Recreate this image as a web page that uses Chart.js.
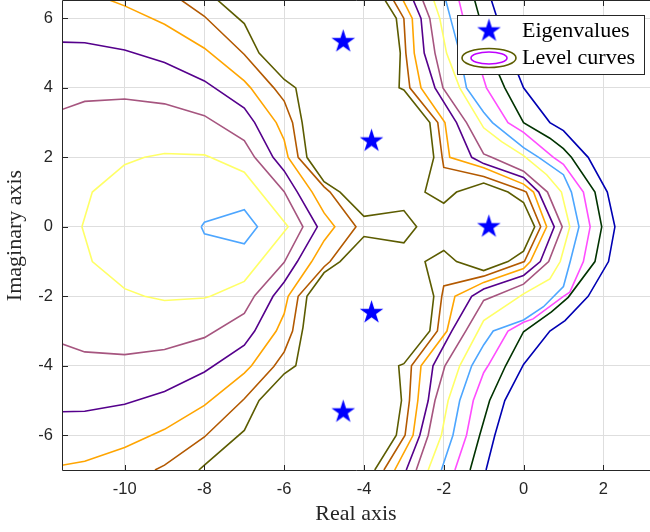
<!DOCTYPE html>
<html>
<head>
<meta charset="utf-8">
<script src="https://cdn.jsdelivr.net/npm/chart.js@4.4.1/dist/chart.umd.min.js"></script>
<style>
html, body { margin: 0; padding: 0; background: #fff; overflow: hidden; }
canvas { display: block; }
</style>
</head>
<body>
<canvas id="chart" width="650" height="532"></canvas>
<script>
// tick labels
var xTicks = [-10, -8, -6, -4, -2, 0, 2];
var yTicks = [-6, -4, -2, 0, 2, 4, 6];

// eigenvalues (real, imag)
var eigReal = [-4.52, -3.81, -0.87, -3.81, -4.52];
var eigImag = [5.33, 2.47, 0, -2.47, -5.33];

var legendLabels = ['Eigenvalues', 'Level curves'];

// level curves, [x, y] points
var lightblueLeft = [[-8.08,0],[-8,0.13],[-7,0.49],[-6.67,0],[-7,-0.49],[-8,-0.2],[-8.08,0]];
var lightblueRight = [[-2.06,7],[-1.83,6],[-1.6,5],[-1.43,4],[-1,3.3],[-0.78,3],[0,2.28],[0.38,2],[1,1.5],[1.2,1],[1.39,0],[1.17,-1],[1,-1.72],[0.5,-2.3],[0,-2.68],[-0.76,-3],[-1,-3.4],[-1.3,-4],[-1.6,-5],[-1.77,-6],[-2.06,-7]];

var yellowLeft = [[-11.07,0],[-10.81,1],[-10,1.79],[-9.5,2],[-9,2.11],[-8,2.07],[-7.85,2],[-7,1.57],[-5.9,0],[-7,-1.57],[-7.85,-2],[-8,-2.05],[-9,-2.12],[-9.5,-2],[-10,-1.78],[-10.81,-1],[-11.07,0]];
var yellowRight = [[-2.39,7],[-2.1,6],[-1.93,5],[-1.6,4],[-1,2.85],[-0.55,2.45],[0,2.05],[0.58,1.5],[0.95,1],[1.16,0],[0.92,-1],[0.66,-1.5],[0,-1.93],[-1,-2.7],[-1.6,-4],[-1.89,-5],[-2.06,-6],[-2.39,-7]];

var mauveLeft = [[-12,3.2],[-11,3.61],[-10,3.68],[-9,3.54],[-8,3.2],[-7,2.48],[-6.74,2],[-6,1.01],[-5.53,0],[-6,-1.02],[-6.74,-1.98],[-7,-2.49],[-8,-3.19],[-9,-3.53],[-10,-3.68],[-11,-3.6],[-12,-3.2]];
var mauveRight = [[-2.69,7],[-2.35,6],[-2.22,5],[-2.02,4],[-1.43,3],[-1,2.1],[-0.8,2],[0,1.6],[0.6,1],[0.97,0],[0.63,-1],[0,-1.65],[-1,-2.12],[-1.45,-3],[-1.97,-4],[-2.22,-5],[-2.39,-6],[-2.69,-7]];

var purpleLeft = [[-12,5.33],[-11,5.3],[-10,5.09],[-9,4.73],[-8,4.2],[-7,3.42],[-6.74,3],[-6.28,2],[-6,1.61],[-5.67,1],[-5.17,0],[-5.67,-1],[-6,-1.59],[-6.28,-2],[-6.74,-3],[-7,-3.41],[-8,-4.18],[-9,-4.74],[-10,-5.11],[-11,-5.31],[-12,-5.33]];
var purpleRight = [[-2.94,7],[-2.57,6],[-2.49,5],[-2.22,4],[-1.68,3],[-1.3,2],[-1,1.82],[0,1.42],[0.38,1],[0.77,0],[0.42,-1],[0,-1.4],[-1,-1.79],[-1.3,-2],[-1.8,-3],[-2.27,-4],[-2.39,-5],[-2.6,-6],[-2.94,-7]];

var orangeLeft = [[-11,6.8],[-10,6.36],[-9,5.83],[-8,5.14],[-7,4.2],[-6.84,4],[-6.2,3],[-6,2.5],[-5.9,2],[-5.3,1],[-5,0.4],[-4.73,0],[-5,-0.4],[-5.31,-1],[-5.9,-2],[-6,-2.5],[-6.2,-3],[-6.82,-4],[-7,-4.21],[-8,-5.14],[-9,-5.83],[-10,-6.35],[-11,-6.75],[-12,-6.95]];
var orangeRight = [[-3.23,7],[-2.79,6],[-2.74,5],[-2.57,4],[-1.97,3],[-1.85,2],[-1,1.7],[0,1.23],[0.25,1],[0.58,0],[0.17,-1],[0,-1.2],[-1,-1.6],[-1.72,-2],[-1.92,-3],[-2.57,-4],[-2.65,-5],[-2.77,-6],[-3.23,-7]];

var brownLeft = [[-9.24,7],[-9,6.86],[-8,6.06],[-7,4.96],[-6.26,4],[-6,3.62],[-5.79,3],[-5.65,2],[-5,1.15],[-4.85,1],[-4.2,0],[-4.85,-1],[-5,-1.15],[-5.65,-2],[-5.79,-3],[-6,-3.6],[-6.26,-4.02],[-7,-4.95],[-8,-6.05],[-9,-6.86],[-9.24,-7]];
var brownRight = [[-3.5,7],[-3,6],[-2.95,5],[-2.85,4],[-2.15,3],[-2.04,2],[-2,1.71],[-1,1.45],[0,1.04],[0.07,1],[0.43,0],[0.02,-1],[-1,-1.42],[-2,-1.7],[-2.05,-2],[-2.16,-3],[-2.81,-4],[-2.86,-5],[-2.97,-6],[-3.5,-7]];

var oliveLeft = [[-8.14,7],[-8,6.86],[-7,5.85],[-6.63,5],[-6,4.24],[-5.71,4],[-5.55,3],[-5.43,2],[-5,1.3],[-4.6,1],[-4,0.3],[-3,0.47],[-2.68,0],[-3,-0.46],[-4,-0.28],[-4.6,-1],[-5,-1.32],[-5.43,-2],[-5.53,-2.9],[-5.71,-4],[-6,-4.23],[-6.63,-5],[-7,-5.86],[-8,-6.86],[-8.14,-7]];
var oliveRight = [[-3.73,7],[-3.19,6],[-3.09,5],[-3.12,4],[-3,3.94],[-2.35,3],[-2.25,2],[-2.47,1],[-2,0.68],[-1.68,1],[-1,1.26],[-0.39,1],[0,0.7],[0.28,0],[0,-0.7],[-0.39,-1],[-1,-1.26],[-1.68,-1],[-2,-0.68],[-2.47,-1],[-2.25,-2],[-2.35,-3],[-3,-3.94],[-3.13,-4],[-3.06,-5],[-3.19,-6],[-3.73,-7]];

var magentaRight = [[-1.72,7],[-1.51,6],[-1.2,5],[-0.93,4],[-0.39,3],[0,2.72],[0.75,2],[1,1.8],[1.5,1],[1.67,0],[1.5,-1],[1.16,-1.88],[1,-2],[0.24,-2.65],[0,-2.75],[-0.39,-3],[-0.89,-4],[-1,-4.2],[-1.26,-5],[-1.43,-6],[-1.72,-7]];
var darkgreenRight = [[-1.34,7],[-1.1,6],[-0.85,5],[-0.47,4],[0,3],[0.66,2.55],[1,2.25],[1.2,2],[1.79,1],[1.96,0],[1.79,-1],[1.12,-2.03],[0.7,-2.45],[0,-3.02],[-0.45,-4],[-0.85,-5],[-1.1,-6],[-1.34,-7]];
var blueRight = [[-0.94,7],[-0.66,6],[-0.35,5],[0,4],[0.66,3],[1,2.77],[1.62,2],[2.1,1],[2.29,0],[2.13,-1],[1.62,-2],[1.04,-2.7],[0.66,-3],[0,-3.96],[-0.47,-5],[-0.72,-6],[-0.94,-7]];

var levelColors = {
  lightblue: '#4da6ff',
  yellow: '#ffff66',
  mauve: '#a6557f',
  purple: '#55008c',
  orange: '#ffa500',
  brown: '#b35900',
  olive: '#5c5c00',
  magenta: '#ff4dff',
  darkgreen: '#003300',
  blue: '#0000b3'
};

function toPoints() {
  var out = [];
  for (var i = 0; i < arguments.length; i++) {
    if (i > 0) out.push({x: null, y: null});
    arguments[i].forEach(function(p) { out.push({x: p[0], y: p[1]}); });
  }
  return out;
}

function starImage(r, color) {
  var c = document.createElement('canvas');
  var s = Math.ceil(r * 2) + 2;
  c.width = s; c.height = s;
  var g = c.getContext('2d');
  g.translate(s / 2, s / 2);
  g.beginPath();
  for (var i = 0; i < 10; i++) {
    var rad = i % 2 === 0 ? r : r * 0.382;
    var a = -Math.PI / 2 + i * Math.PI / 5;
    g.lineTo(rad * Math.cos(a), rad * Math.sin(a));
  }
  g.closePath();
  g.fillStyle = color;
  g.fill();
  return c;
}
var star = starImage(12.4, '#0000ff');

function level(label, color, pts) {
  return {
    label: label,
    data: pts,
    showLine: true,
    borderColor: color,
    backgroundColor: color,
    borderWidth: 1.6,
    pointRadius: 0,
    pointHitRadius: 0,
    spanGaps: false,
    tension: 0
  };
}

var datasets = [{
  label: legendLabels[0],
  data: eigReal.map(function(v, i) { return {x: v, y: eigImag[i]}; }),
  showLine: false,
  pointStyle: star,
  pointRadius: 12,
  backgroundColor: '#0000ff',
  borderColor: '#0000ff'
}];
datasets.push(level(legendLabels[1], levelColors.lightblue, toPoints(lightblueLeft, lightblueRight)));
datasets.push(level(legendLabels[1], levelColors.yellow, toPoints(yellowLeft, yellowRight)));
datasets.push(level(legendLabels[1], levelColors.mauve, toPoints(mauveLeft, mauveRight)));
datasets.push(level(legendLabels[1], levelColors.purple, toPoints(purpleLeft, purpleRight)));
datasets.push(level(legendLabels[1], levelColors.orange, toPoints(orangeLeft, orangeRight)));
datasets.push(level(legendLabels[1], levelColors.brown, toPoints(brownLeft, brownRight)));
datasets.push(level(legendLabels[1], levelColors.olive, toPoints(oliveLeft, oliveRight)));
datasets.push(level(legendLabels[1], levelColors.magenta, toPoints(magentaRight)));
datasets.push(level(legendLabels[1], levelColors.darkgreen, toPoints(darkgreenRight)));
datasets.push(level(legendLabels[1], levelColors.blue, toPoints(blueRight)));

// axes box with inward ticks, drawn over the curves
var axesBox = {
  id: 'axesBox',
  afterDatasetsDraw: function(chart) {
    var a = chart.chartArea, ctx = chart.ctx;
    var sx = chart.scales.x, sy = chart.scales.y;
    ctx.save();
    ctx.strokeStyle = '#262626';
    ctx.lineWidth = 1;
    ctx.beginPath();
    ctx.moveTo(a.left + 0.5, a.top - 0.5);
    ctx.lineTo(a.left + 0.5, a.bottom + 0.5);
    ctx.lineTo(a.right, a.bottom + 0.5);
    ctx.moveTo(a.left + 0.5, a.top - 0.5);
    ctx.lineTo(a.right, a.top - 0.5);
    xTicks.forEach(function(v) {
      var p = Math.round(sx.getPixelForValue(v)) + 0.5;
      ctx.moveTo(p, a.bottom); ctx.lineTo(p, a.bottom - 5);
      ctx.moveTo(p, a.top); ctx.lineTo(p, a.top + 5);
    });
    yTicks.forEach(function(v) {
      var p = Math.round(sy.getPixelForValue(v)) + 0.5;
      ctx.moveTo(a.left, p); ctx.lineTo(a.left + 6, p);
    });
    ctx.stroke();
    ctx.restore();
  }
};

var legendBox = {
  id: 'legendBox',
  afterDraw: function(chart) {
    var ctx = chart.ctx;
    ctx.save();
    ctx.fillStyle = '#ffffff';
    ctx.fillRect(457, 15, 187, 59);
    ctx.strokeStyle = '#262626';
    ctx.lineWidth = 1;
    ctx.strokeRect(457.5, 15.5, 187, 59);
    ctx.drawImage(star, 489 - star.width / 2, 31 - star.height / 2);
    ctx.lineWidth = 1.6;
    ctx.strokeStyle = levelColors.olive;
    ctx.beginPath();
    ctx.ellipse(489, 58, 27, 9.5, 0, 0, Math.PI * 2);
    ctx.stroke();
    ctx.strokeStyle = '#bf00ff';
    ctx.beginPath();
    ctx.ellipse(489, 58, 18, 6, 0, 0, Math.PI * 2);
    ctx.stroke();
    ctx.fillStyle = '#000000';
    ctx.font = '22px "Liberation Serif", serif';
    ctx.textBaseline = 'alphabetic';
    ctx.fillText(legendLabels[0], 522, 37);
    ctx.fillText(legendLabels[1], 522, 64);
    ctx.restore();
  }
};

new Chart(document.getElementById('chart').getContext('2d'), {
  type: 'scatter',
  data: { datasets: datasets },
  options: {
    responsive: false,
    animation: false,
    events: [],
    layout: { autoPadding: false, padding: { top: 1, right: 0, bottom: 0, left: 0 } },
    plugins: { legend: { display: false }, tooltip: { enabled: false } },
    scales: {
      x: {
        type: 'linear',
        min: -11.57,
        max: 3.17,
        afterBuildTicks: function(s) { s.ticks = xTicks.map(function(v) { return {value: v}; }); },
        afterFit: function(s) { s.height = 62; s.paddingLeft = 0; s.paddingRight = 0; },
        grid: { color: '#dedede', lineWidth: 1, drawTicks: false },
        border: { display: false },
        ticks: {
          color: '#262626', padding: 10, maxRotation: 0, autoSkip: false,
          font: { family: '"Liberation Sans", Arial, sans-serif', size: 16.5 }
        },
        title: {
          display: true, text: 'Real axis', color: '#262626',
          font: { family: '"Liberation Serif", serif', size: 22 },
          padding: { top: 0, bottom: 5 }
        }
      },
      y: {
        type: 'linear',
        min: -7,
        max: 6.5,
        afterBuildTicks: function(s) { s.ticks = yTicks.map(function(v) { return {value: v}; }); },
        afterFit: function(s) { s.width = 62; s.paddingTop = 0; s.paddingBottom = 0; },
        grid: { color: '#dedede', lineWidth: 1, drawTicks: false },
        border: { display: false },
        ticks: {
          color: '#262626', padding: 9,
          font: { family: '"Liberation Sans", Arial, sans-serif', size: 16.5 }
        },
        title: {
          display: true, text: 'Imaginary axis', color: '#262626',
          font: { family: '"Liberation Serif", serif', size: 22 },
          padding: { top: 2, bottom: 0 }
        }
      }
    }
  },
  plugins: [axesBox, legendBox]
});
</script>
</body>
</html>
